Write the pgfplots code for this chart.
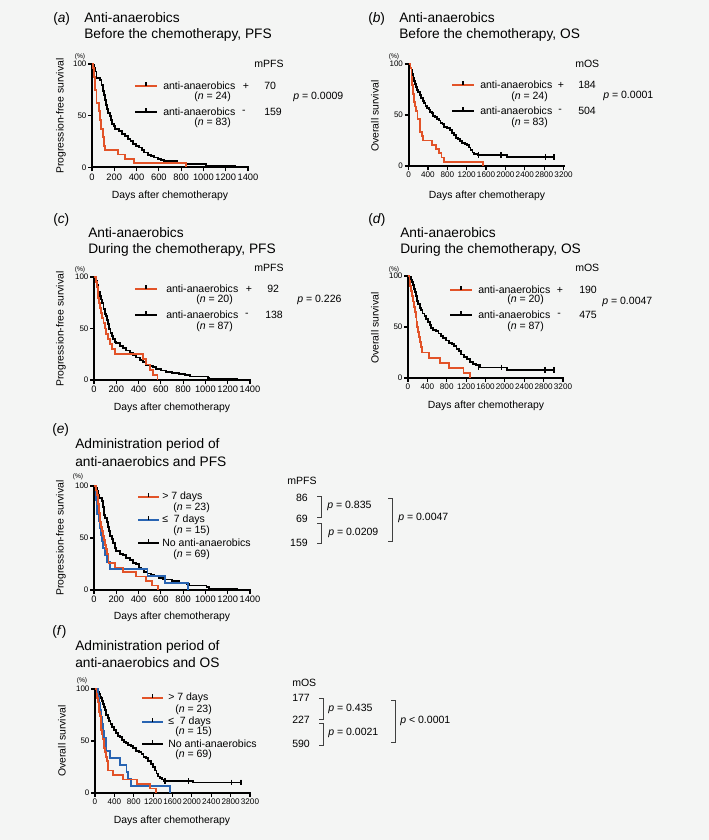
\documentclass[border=0pt]{standalone}
\usepackage{pgfplots}
\pgfplotsset{compat=1.18}
\usepackage{fontspec}
\setmainfont{Liberation Sans}
\definecolor{kmred}{RGB}{226,83,40}
\definecolor{kmblue}{RGB}{40,100,178}
\definecolor{bgc}{RGB}{244,245,244}
\newcommand{\fs}[1]{\fontsize{#1}{#1}\selectfont}
\pgfplotsset{
  km/.style={
    scale only axis, anchor=south west, clip=false,
    xmin=0, ymin=0, ymax=100,
    axis x line=bottom, axis y line=left,
    axis line style={-, line width=1.5pt, line cap=rect},
    every outer x axis line/.append style={-},
    every outer y axis line/.append style={-},
    tick align=outside, major tick length=3pt,
    tick style={black, line width=0.9pt},
    ytick={0,50,100},
    yticklabel style={font=\fs{6}, inner sep=1pt},
    xticklabel style={font=\fs{7}, inner sep=1.5pt},
    /pgf/number format/assume math mode=true,
    /pgf/number format/set thousands separator={},
  },
  pfs/.style={km, xmax=1400, xtick={0,200,...,1400}},
  os/.style={km, xmax=3200, xtick={0,400,...,3200}, xticklabel style={font=\fs{6.1}}},
  kmr/.style={kmred, line width=1.4pt, const plot, mark=none},
  kmb/.style={kmblue, line width=1.4pt, const plot, mark=none},
  kmk/.style={black, line width=1.4pt, const plot, mark=none},
  cens/.style={black, only marks, mark=|, mark size=2.2pt, mark options={line width=0.9pt}},
}
% legend sample: x1, x2, y, colour
\newcommand{\legline}[4]{%
  \draw[#4, line width=1.4pt] (#1,#3) -- (#2,#3);
  \draw[black, line width=0.8pt] ({(#1+#2)/2},#3) -- ({(#1+#2)/2},{#3-4});}
% bracket: x, ytop, ybottom
\newcommand{\brk}[3]{%
  \draw[black!75, line width=0.7pt] ({#1-4},#2) -- (#1,#2) -- (#1,#3) -- ({#1-4},#3);}
\begin{document}
\begin{tikzpicture}
\begin{scope}[x=0.75pt, y=-0.75pt]
  \fill[bgc] (0,0) rectangle (709,840);
  \useasboundingbox (0,0) rectangle (709,840);
\end{scope}

% ---------------- (a)
\begin{axis}[pfs, at={(69pt,-125.6pt)}, width=117pt, height=77.6pt]
\addplot[kmk] coordinates {(0,100) (10,98.8) (20,96.4) (30,92.8) (40,86.7) (70,84.3) (85,79.5) (95,73.5) (105,69.9) (115,65.1) (125,60.2) (135,56.6) (145,53) (160,49.4) (170,45.8) (180,42.2) (195,39.8) (210,37.3) (240,34.9) (270,32.5) (300,30.1) (320,27.7) (345,25.3) (370,22.9) (395,20.5) (420,19.3) (445,16.9) (470,14.5) (500,12) (530,10.8) (560,9.6) (590,8.4) (620,7.2) (650,6) (760,4.8) (840,3.6) (1020,1.2) (1280,0)};
\addplot[kmr] coordinates {(0,100) (10,95.8) (20,87.5) (30,75) (40,62.5) (60,54.2) (70,45.8) (80,37.5) (95,29.2) (110,20.8) (120,16.7) (230,12.5) (300,8.3) (380,4.2) (840,0)};
\end{axis}

% ---------------- (b)
\begin{axis}[os, at={(306.4pt,-124.5pt)}, width=116.25pt, height=76.5pt]
\addplot[kmk] coordinates {(0,100) (20,98.8) (40,96.4) (60,94) (80,90.4) (100,86.7) (120,83.1) (140,80.7) (160,77.1) (180,74.7) (200,72.3) (230,69.9) (260,66.3) (290,63.9) (320,61.4) (350,59) (380,56.6) (420,55.4) (450,53) (480,51.8) (504,49.4) (540,48.2) (580,45.8) (620,44.6) (660,42.2) (700,41) (740,38.6) (800,37.3) (850,34.9) (900,32.5) (940,30.1) (980,27.7) (1020,26.5) (1060,24.1) (1100,22.9) (1160,21.7) (1200,20.5) (1240,18.1) (1280,15.7) (1320,13.3) (1360,12) (1430,10.8) (2030,8.6) (3020,8.6)};
\addplot[cens] coordinates {(1450,10.8) (1910,10.8) (2820,8.6) (2990,8.6) (3020,8.6)};
\addplot[kmr] coordinates {(0,100) (40,95.8) (60,87.5) (80,79.2) (100,70.8) (120,62.5) (140,58.3) (160,54.2) (184,45.8) (230,41.7) (245,33.3) (270,29.2) (300,25) (480,20.8) (560,16.7) (620,12.5) (680,8.3) (730,4.2) (1540,0)};
\end{axis}

% ---------------- (c)
\begin{axis}[pfs, at={(70.5pt,-285pt)}, width=117pt, height=77.25pt]
\addplot[kmk] coordinates {(0,100) (10,98.9) (20,96.6) (30,92) (40,85.1) (50,81.6) (65,78.2) (75,74.7) (85,69) (95,64.4) (105,62.1) (120,58.6) (128,54) (138,49.4) (148,46) (158,42.5) (170,40.2) (185,36.8) (200,35.6) (230,33.3) (260,31) (290,28.7) (320,26.4) (350,24.1) (380,21.8) (410,19.5) (440,17.2) (470,14.9) (500,13.8) (530,12.6) (560,10.3) (600,9.2) (650,8) (700,6.9) (760,5.7) (820,4.6) (860,3.4) (1020,2.3) (1030,1.1) (1280,0)};
\addplot[kmr] coordinates {(0,100) (15,95) (25,90) (35,80) (45,75) (55,70) (65,65) (75,60) (85,55) (95,50) (110,45) (125,40) (140,35) (160,30) (185,25) (440,20) (470,15) (500,10) (530,5) (570,0)};
\end{axis}

% ---------------- (d)
\begin{axis}[os, at={(306pt,-283.5pt)}, width=116.25pt, height=76.5pt]
\addplot[kmk] coordinates {(0,100) (30,98.9) (60,96.6) (80,94.3) (100,90.8) (120,87.4) (140,83.9) (160,80.5) (185,75.9) (210,72.4) (240,69) (270,66.7) (300,63.2) (340,60.9) (380,57.5) (420,55.2) (450,51.7) (475,49.4) (520,47.1) (580,46) (630,43.7) (680,41.4) (720,39.1) (780,36.8) (840,34.5) (900,33.3) (950,31) (1000,28.7) (1050,26.4) (1100,23) (1150,20.7) (1220,18.4) (1280,16.1) (1340,13.8) (1400,12.6) (1480,10.3) (2035,8) (3030,8)};
\addplot[cens] coordinates {(1450,10.3) (1930,10.3) (2830,8) (3000,8) (3030,8)};
\addplot[kmr] coordinates {(0,100) (30,95) (50,90) (70,85) (90,80) (110,75) (130,70) (150,65) (165,60) (175,55) (190,50) (205,45) (220,40) (240,35) (260,30) (290,25) (425,20) (665,15) (855,10) (1145,5) (1280,0)};
\end{axis}

% ---------------- (e)
\begin{axis}[pfs, at={(70.5pt,-442.5pt)}, width=117pt, height=78pt]
\addplot[kmk] coordinates {(0,100) (15,98.6) (25,95.7) (35,91.3) (45,88.4) (70,85.5) (80,79.7) (90,72.5) (100,69.6) (115,65.2) (125,60.9) (135,56.5) (145,52.2) (159,49.3) (170,44.9) (185,40.6) (200,37.7) (230,34.8) (260,33.3) (290,30.4) (320,29) (350,26.1) (380,24.6) (400,21.7) (420,20.3) (450,17.4) (480,15.9) (510,14.5) (540,13) (580,11.6) (620,10.1) (700,8.7) (760,7.2) (830,5.8) (850,4.3) (1010,2.9) (1030,1.4) (1280,0)};
\addplot[kmb] coordinates {(0,100) (15,93.3) (20,86.7) (25,80) (30,73.3) (48,66.7) (52,60) (60,53.3) (69,46.7) (78,40) (95,33.3) (115,26.7) (140,20) (480,13.3) (640,6.7) (846,0)};
\addplot[kmr] coordinates {(0,100) (15,95.7) (25,91.3) (35,82.6) (45,73.9) (50,65.2) (60,60.9) (70,56.5) (80,52.2) (86,47.8) (100,43.5) (110,39.1) (120,34.8) (130,26.1) (190,21.7) (260,17.4) (380,13) (470,8.7) (520,4.3) (575,0)};
\end{axis}

% ---------------- (f)
\begin{axis}[os, at={(71.25pt,-594.75pt)}, width=116.25pt, height=78pt]
\addplot[kmk] coordinates {(0,100) (50,98.6) (70,97.1) (90,95.7) (110,92.8) (130,91.3) (150,88.4) (170,85.5) (190,82.6) (210,79.7) (230,75.4) (260,72.5) (290,69.6) (320,66.7) (350,63.8) (390,60.9) (430,58) (470,55.1) (520,53.6) (560,50.7) (590,49.3) (640,47.8) (690,46.4) (740,44.9) (790,43.5) (850,40.6) (900,39.1) (960,37.7) (1000,34.8) (1050,33.3) (1100,30.4) (1150,27.5) (1200,24.6) (1240,21.7) (1270,18.8) (1300,15.9) (1340,14.5) (1380,13) (1420,11.6) (2030,10.1) (3030,10.1)};
\addplot[cens] coordinates {(1445,11.6) (1926,11.6) (2825,10.1) (3000,10.1) (3030,10.1)};
\addplot[kmb] coordinates {(0,100) (60,93.3) (90,86.7) (110,80) (130,73.3) (150,66.7) (170,60) (190,53.3) (227,46.7) (235,40) (310,33.3) (510,26.7) (650,20) (680,13.3) (740,6.7) (1550,0)};
\addplot[kmr] coordinates {(0,100) (30,95.7) (45,91.3) (60,87) (75,82.6) (90,78.3) (105,73.9) (115,69.6) (125,60.9) (140,56.5) (155,52.2) (177,47.8) (190,43.5) (205,39.1) (220,34.8) (240,30.4) (260,26.1) (275,21.7) (380,17.4) (585,13) (860,8.7) (1135,4.3) (1260,0)};
\end{axis}

\begin{scope}[x=0.75pt, y=-0.75pt, every node/.style={inner sep=0pt}]
% ---- titles
\begin{scope}[font=\fs{10.3}]
  \node[anchor=west] at (53,19) {(\textit{a})};
  \node[anchor=west] at (84,18) {Anti-anaerobics};
  \node[anchor=west] at (84,35) {Before the chemotherapy, PFS};
  \node[anchor=west] at (368,19) {(\textit{b})};
  \node[anchor=west] at (399,18) {Anti-anaerobics};
  \node[anchor=west] at (399,35) {Before the chemotherapy, OS};
  \node[anchor=west] at (53,220) {(\textit{c})};
  \node[anchor=west] at (88,233) {Anti-anaerobics};
  \node[anchor=west] at (88,250) {During the chemotherapy, PFS};
  \node[anchor=west] at (368,220) {(\textit{d})};
  \node[anchor=west] at (400,233) {Anti-anaerobics};
  \node[anchor=west] at (400,250) {During the chemotherapy, OS};
  \node[anchor=west] at (52,430) {(\textit{e})};
  \node[anchor=west] at (75,445) {Administration period of};
  \node[anchor=west] at (75,462) {anti-anaerobics and PFS};
  \node[anchor=west] at (52,632) {(\textit{f})};
  \node[anchor=west] at (75,647) {Administration period of};
  \node[anchor=west] at (75,663) {anti-anaerobics and OS};
\end{scope}
% ---- (%) marks
\begin{scope}[font=\fs{5}]
  \node at (80,57) {(\%)};
  \node at (394,57) {(\%)};
  \node at (80,270) {(\%)};
  \node at (394,270) {(\%)};
  \node at (78,477) {(\%)};
  \node at (82,681) {(\%)};
\end{scope}
% ---- axis labels
\begin{scope}[font=\fs{7.8}]
  \node at (170,196) {Days after chemotherapy};
  \node at (487,196) {Days after chemotherapy};
  \node at (172,408) {Days after chemotherapy};
  \node at (486,406) {Days after chemotherapy};
  \node at (172,617) {Days after chemotherapy};
  \node at (172,821) {Days after chemotherapy};
  \node[rotate=90] at (61,116) {Progression-free survival};
  \node[rotate=90] at (375,116) {Overall survival};
  \node[rotate=90] at (61,329) {Progression-free survival};
  \node[rotate=90] at (375,328) {Overall survival};
  \node[rotate=90] at (61,538) {Progression-free survival};
  \node[rotate=90] at (62,741) {Overall survival};
\end{scope}
% ---- legends
\begin{scope}[font=\fs{7.9}]
  % (a)
  \node[anchor=west] at (254,64) {mPFS};
  \legline{135}{157}{86}{kmred}
  \node[anchor=west] at (163,86) {anti-anaerobics};
  \node at (246,86) {+};
  \node[anchor=west] at (264,86) {70};
  \node[anchor=west] at (194,97) {(\textit{n} = 24)};
  \legline{135}{157}{112}{black}
  \node[anchor=west] at (163,112) {anti-anaerobics};
  \node at (244,112) {-};
  \node[anchor=west] at (264,112) {159};
  \node[anchor=west] at (194,123) {(\textit{n} = 83)};
  \node[anchor=west] at (293,97) {\textit{p} = 0.0009};
  % (b)
  \node[anchor=west] at (575,64) {mOS};
  \legline{452}{474}{85}{kmred}
  \node[anchor=west] at (480,85) {anti-anaerobics};
  \node at (561,85) {+};
  \node[anchor=west] at (578,85) {184};
  \node[anchor=west] at (511,97) {(\textit{n} = 24)};
  \legline{452}{474}{111}{black}
  \node[anchor=west] at (480,111) {anti-anaerobics};
  \node at (560,111) {-};
  \node[anchor=west] at (578,111) {504};
  \node[anchor=west] at (511,123) {(\textit{n} = 83)};
  \node[anchor=west] at (603,96) {\textit{p} = 0.0001};
  % (c)
  \node[anchor=west] at (254,268) {mPFS};
  \legline{135}{157}{289}{kmred}
  \node[anchor=west] at (166,289) {anti-anaerobics};
  \node at (249,289) {+};
  \node[anchor=west] at (267,289) {92};
  \node[anchor=west] at (196,300) {(\textit{n} = 20)};
  \legline{135}{157}{315}{black}
  \node[anchor=west] at (166,315) {anti-anaerobics};
  \node at (247,315) {-};
  \node[anchor=west] at (265,315) {138};
  \node[anchor=west] at (196,327) {(\textit{n} = 87)};
  \node[anchor=west] at (297,300) {\textit{p} = 0.226};
  % (d)
  \node[anchor=west] at (575,268) {mOS};
  \legline{450}{472}{290}{kmred}
  \node[anchor=west] at (478,290) {anti-anaerobics};
  \node at (560,290) {+};
  \node[anchor=west] at (579,290) {190};
  \node[anchor=west] at (507,300) {(\textit{n} = 20)};
  \legline{450}{472}{315}{black}
  \node[anchor=west] at (478,315) {anti-anaerobics};
  \node at (559,315) {-};
  \node[anchor=west] at (579,315) {475};
  \node[anchor=west] at (507,327) {(\textit{n} = 87)};
  \node[anchor=west] at (602,302) {\textit{p} = 0.0047};
  % (e)
  \node[anchor=west] at (287,481) {mPFS};
  \legline{138}{159}{497}{kmred}
  \node[anchor=west] at (162,497) {> 7 days};
  \node[anchor=west] at (173,508) {(\textit{n} = 23)};
  \legline{138}{159}{520}{kmblue}
  \node[anchor=west] at (162,520) {≤\ \ 7 days};
  \node[anchor=west] at (173,531) {(\textit{n} = 15)};
  \legline{138}{159}{543}{black}
  \node[anchor=west] at (162,543) {No anti-anaerobics};
  \node[anchor=west] at (173,555) {(\textit{n} = 69)};
  \node[anchor=east] at (308,498) {86};
  \node[anchor=east] at (308,519) {69};
  \node[anchor=east] at (308,543) {159};
  \brk{321}{496}{517}
  \brk{321}{523}{543}
  \brk{392}{498}{541}
  \node[anchor=west] at (327,506) {\textit{p} = 0.835};
  \node[anchor=west] at (328,533) {\textit{p} = 0.0209};
  \node[anchor=west] at (398,518) {\textit{p} = 0.0047};
  % (f)
  \node[anchor=west] at (292,683) {mOS};
  \legline{142}{163}{698}{kmred}
  \node[anchor=west] at (168,698) {> 7 days};
  \node[anchor=west] at (175,710) {(\textit{n} = 23)};
  \legline{142}{163}{722}{kmblue}
  \node[anchor=west] at (168,722) {≤\ \ 7 days};
  \node[anchor=west] at (175,732) {(\textit{n} = 15)};
  \legline{142}{163}{744}{black}
  \node[anchor=west] at (168,744) {No anti-anaerobics};
  \node[anchor=west] at (175,755) {(\textit{n} = 69)};
  \node[anchor=west] at (292,698) {177};
  \node[anchor=west] at (292,720) {227};
  \node[anchor=west] at (292,744) {590};
  \brk{323}{698}{719}
  \brk{323}{723}{745}
  \brk{395}{700}{742}
  \node[anchor=west] at (328,709) {\textit{p} = 0.435};
  \node[anchor=west] at (328,733) {\textit{p} = 0.0021};
  \node[anchor=west] at (400,721) {\textit{p} < 0.0001};
\end{scope}
\end{scope}
\end{tikzpicture}
\end{document}
